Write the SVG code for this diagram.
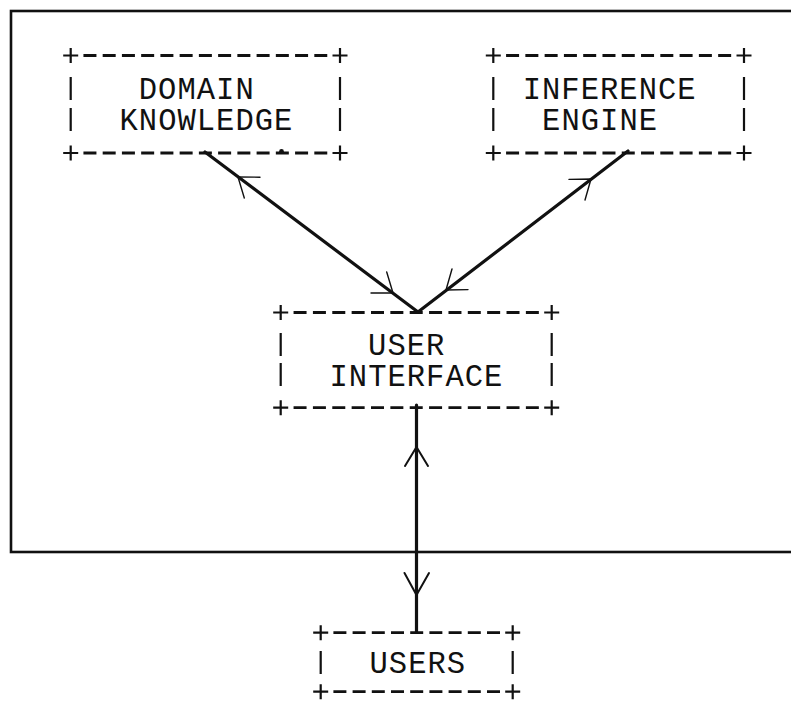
<svg xmlns="http://www.w3.org/2000/svg" width="791" height="703" viewBox="0 0 791 703">
<style>
  .t { font-family: "Liberation Mono", "DejaVu Sans Mono", monospace; font-size: 30.5px; letter-spacing: 1.02px; fill: #111; }
  .frame { fill: none; stroke: #111; stroke-width: 2.6; }
  .dash { fill: none; stroke: #111; stroke-width: 2.8; }
  .plus { fill: none; stroke: #111; stroke-width: 2.2; }
  .bar { fill: none; stroke: #111; stroke-width: 2.2; }
  .link { fill: none; stroke: #111; stroke-width: 3.2; stroke-linecap: round; }
  .head { fill: none; stroke: #111; stroke-width: 1.4; stroke-linecap: round; stroke-linejoin: round; }
  .headv { fill: none; stroke: #111; stroke-width: 2; stroke-linecap: round; stroke-linejoin: round; }
</style>
<defs>
  <path id="plus" class="plus" d="M-7.5 0 H7.5 M0 -7.5 V7.5"/>
</defs>
<rect width="791" height="703" fill="#fff"/>
<rect class="frame" x="11" y="11" width="800" height="541"/>

<g id="domain-knowledge">
  <path class="dash" stroke-dasharray="13 6.24" d="M83.44 55.5 H327.26 M83.44 153 H327.26"/>
  <use href="#plus" x="70.7" y="55.5"/><use href="#plus" x="340" y="55.5"/>
  <use href="#plus" x="70.7" y="153"/><use href="#plus" x="340" y="153"/>
  <path class="bar" d="M70.7 77 V100 M340 77 V100 M70.7 108 V131 M340 108 V131"/>
  <text class="t"><tspan x="138.8" y="99">DOMAIN</tspan><tspan x="119.5" y="130">KNOWLEDGE</tspan></text>
</g>

<g id="inference-engine">
  <path class="dash" stroke-dasharray="13 6.28" d="M506.08 55.5 H731.22 M506.08 153 H731.22"/>
  <use href="#plus" x="493.3" y="55.5"/><use href="#plus" x="744" y="55.5"/>
  <use href="#plus" x="493.3" y="153"/><use href="#plus" x="744" y="153"/>
  <path class="bar" d="M493.3 77 V100 M744 77 V100 M493.3 108 V131 M744 108 V131"/>
  <text class="t"><tspan x="522.7" y="99">INFERENCE</tspan><tspan x="542.1" y="130">ENGINE</tspan></text>
</g>

<g id="user-interface">
  <path class="dash" stroke-dasharray="13 6.36" d="M293.56 312.5 H538.84 M293.56 407.7 H538.84"/>
  <use href="#plus" x="280.7" y="312.5"/><use href="#plus" x="551.7" y="312.5"/>
  <use href="#plus" x="280.7" y="407.7"/><use href="#plus" x="551.7" y="407.7"/>
  <path class="bar" d="M280.7 333 V356 M551.7 333 V356 M280.7 363 V386 M551.7 363 V386"/>
  <text class="t"><tspan x="368.1" y="354.5">USER</tspan><tspan x="329.5" y="385.5">INTERFACE</tspan></text>
</g>

<g id="users">
  <path class="dash" stroke-dasharray="13 6.2" d="M333.4 632.7 H500 M333.4 691.7 H500"/>
  <use href="#plus" x="320.7" y="632.7"/><use href="#plus" x="512.7" y="632.7"/>
  <use href="#plus" x="320.7" y="691.7"/><use href="#plus" x="512.7" y="691.7"/>
  <path class="bar" d="M320.7 651 V674 M512.7 651 V674"/>
  <text class="t" x="369.5" y="673">USERS</text>
</g>

<g id="connectors">
  <path class="link" d="M205 152 L418 312"/>
  <path class="head" d="M260 177.2 L238 177 L244.3 198"/>
  <path class="head" d="M371 293 L393 293 L386.7 272"/>
  <path class="link" d="M628 151 L418 312"/>
  <path class="head" d="M569 179.4 L591 179 L585 200"/>
  <path class="head" d="M468 289.6 L446 290 L452 269"/>
  <path class="link" d="M416.5 405 L416.5 632"/>
  <path class="headv" d="M405 466 L416.5 447 L428 466"/>
  <path class="headv" d="M404.5 573 L416.5 595 L429 573"/>
  <circle cx="281.5" cy="151.5" r="2.4" fill="#111"/>
</g>
</svg>
